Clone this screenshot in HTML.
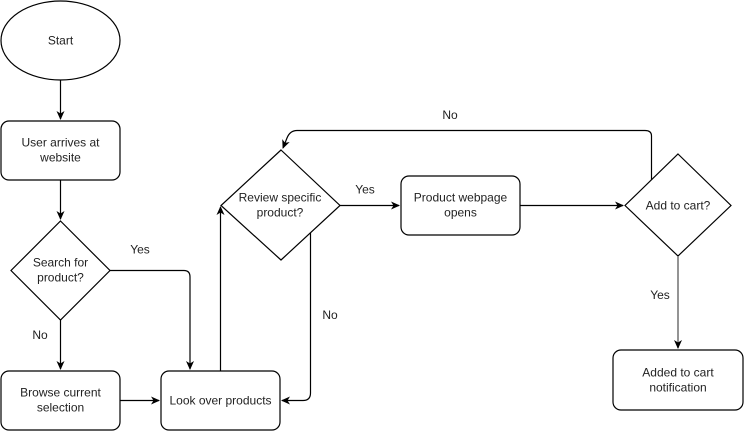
<!DOCTYPE html>
<html><head><style>
html,body{margin:0;padding:0;background:#fff;}
svg{display:block;}
text{font-family:"Liberation Sans",Arial,sans-serif;font-size:12px;fill:#222;text-anchor:middle;}
</style></head><body>
<svg width="744" height="431" viewBox="0 0 744 431" xmlns="http://www.w3.org/2000/svg">
<defs>
<marker id="a" markerWidth="10" markerHeight="10" refX="8" refY="5" orient="auto" markerUnits="userSpaceOnUse">
<path d="M0,1 L9,5 L0,9 L2.5,5 Z" fill="#000"/></marker>
</defs>
<g fill="#fff" stroke="#000" stroke-width="1.2">
<ellipse cx="60.5" cy="40.5" rx="59.5" ry="39.5"/>
<rect x="1" y="121" width="119" height="59" rx="8"/>
<polygon points="60.5,221 110,270.5 60.5,320 11,270.5"/>
<rect x="1" y="371" width="119" height="59" rx="8"/>
<rect x="161" y="371" width="119" height="59" rx="8"/>
<polygon points="281,150 340,205.5 281,260 221,205.5"/>
<rect x="401" y="176" width="119" height="59" rx="8"/>
<polygon points="678,154 731,205.5 678,256 625,205.5"/>
<rect x="613" y="350" width="130" height="60" rx="8"/>
</g>
<g fill="none" stroke="#000" stroke-width="1.2">
<path d="M60.5,80 V119" marker-end="url(#a)"/>
<path d="M60.5,180 V219" marker-end="url(#a)"/>
<path d="M60.5,320 V369" marker-end="url(#a)"/>
<path d="M110,270.5 H184 Q190,270.5 190,277 V369" marker-end="url(#a)"/>
<path d="M120,400.5 H159" marker-end="url(#a)"/>
<path d="M220.5,371 V207" marker-end="url(#a)"/>
<path d="M310.5,233 V393 Q310.5,400.5 303,400.5 H282" marker-end="url(#a)"/>
<path d="M340,205.5 H399" marker-end="url(#a)"/>
<path d="M520,205.5 H623" marker-end="url(#a)"/>
<path d="M651.5,180 V136 Q651.5,130.5 645,130.5 H297 Q290,130.5 287,138 L283,148" marker-end="url(#a)"/>
</g>
<path d="M678,256 V348" fill="none" stroke="#666" stroke-width="1.4" marker-end="url(#a)"/>
<text x="60.5" y="44.5">Start</text>
<text x="60.5" y="146.5">User arrives at</text>
<text x="60.5" y="161.5">website</text>
<text x="60.5" y="266.5">Search for</text>
<text x="60.5" y="281.5">product?</text>
<text x="140" y="253.5">Yes</text>
<text x="40" y="339">No</text>
<text x="60.5" y="396.5">Browse current</text>
<text x="60.5" y="411.5">selection</text>
<text x="220.5" y="404.5">Look over products</text>
<text x="280" y="201.5">Review specific</text>
<text x="280" y="216.5">product?</text>
<text x="330" y="319">No</text>
<text x="365" y="193.5">Yes</text>
<text x="460.5" y="201.5">Product webpage</text>
<text x="460.5" y="216.5">opens</text>
<text x="450" y="119">No</text>
<text x="678" y="209.5">Add to cart?</text>
<text x="660" y="299">Yes</text>
<text x="678" y="376.5">Added to cart</text>
<text x="678" y="391.5">notification</text>
</svg>
</body></html>
